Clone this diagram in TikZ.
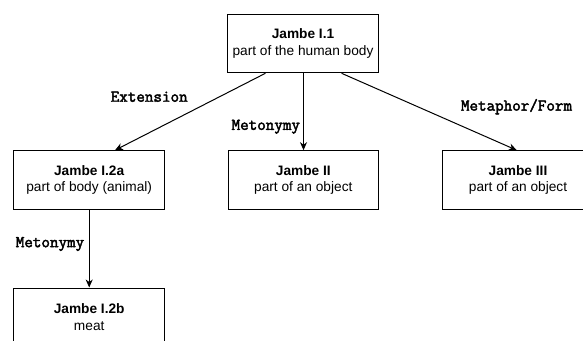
\documentclass[tikz,border=0pt]{standalone}
\usepackage{fontspec}
\setmainfont{Liberation Sans}
\newfontfamily\shiftfont[FakeBold=2.5]{Latin Modern Mono}
\usetikzlibrary{arrows.meta, positioning}

\tikzset{
    sense/.style={draw, line width=1pt, minimum width=150.6pt, minimum height=58.6pt,
        align=center, inner sep=0pt, font=\fontsize{13.7}{16.6}\selectfont},
    shiftlabel/.style={inner sep=0pt, font=\shiftfont\fontsize{16.6}{18}\selectfont},
    link/.style={line width=1pt, -{Stealth[length=8pt,width=7pt,inset=2.5pt]}}
}

\begin{document}
\begin{tikzpicture}[x=1pt, y=-1pt]

    \useasboundingbox (0,0) rectangle (583,340);
    \clip (0,0) rectangle (583,340);

    % Top sense
    \node[sense] (human) at (303,43.5) {\textbf{Jambe I.1}\\part of the human body};

    % Second row
    \node[sense] (animal) at (89.2,180) {\textbf{Jambe I.2a}\\part of body (animal)};
    \node[sense] (objectII) at (303.3,180) {\textbf{Jambe II}\\part of an object};
    \node[sense] (objectIII) at (518,180) {\textbf{Jambe III}\\part of an object};

    % Bottom sense
    \node[sense] (meat) at (89.2,317.3) {\textbf{Jambe I.2b}\\meat};

    % Links between senses
    \draw[link] ([xshift=-37.6pt]human.south) -- ([xshift=25.8pt]animal.north);
    \draw[link] ([xshift=0.5pt]human.south) -- ([xshift=0.2pt]objectII.north);
    \draw[link] ([xshift=38.6pt]human.south) -- ([xshift=-1.3pt]objectIII.north);
    \draw[link] (animal.south) -- (meat.north);

    % Labels of the links
    \node[shiftlabel] (extension) at (149.2,96.7) {Extension};
    \node[shiftlabel] (metonymyII) at (265.8,126.7) {Metonymy};
    \node[shiftlabel] (metaphor) at (516.5,106.7) {Metaphor/Form};
    \node[shiftlabel] (metonymyI) at (50,244) {Metonymy};

\end{tikzpicture}
\end{document}
